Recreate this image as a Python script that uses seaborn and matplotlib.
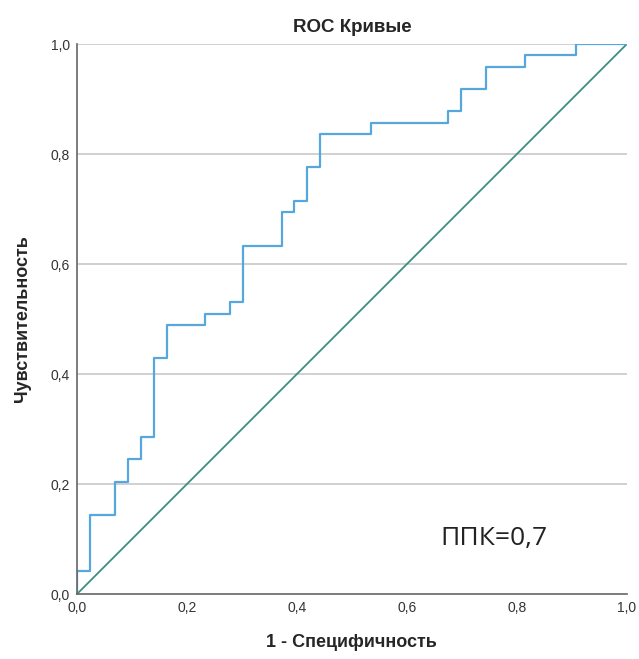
import numpy as np
import pandas as pd
import matplotlib
matplotlib.use("Agg")
import matplotlib.pyplot as plt
import seaborn as sns

# ROC step points (1 - specificity, sensitivity)
fpr = [0.0, 0.0, 0.023, 0.023, 0.070, 0.070, 0.093, 0.093, 0.116, 0.116,
       0.140, 0.140, 0.163, 0.163, 0.233, 0.233, 0.279, 0.279, 0.302, 0.302,
       0.372, 0.372, 0.395, 0.395, 0.419, 0.419, 0.442, 0.442, 0.535, 0.535,
       0.674, 0.674, 0.698, 0.698, 0.744, 0.744, 0.814, 0.814, 0.907, 0.907, 1.0]
tpr = [0.0, 0.041, 0.041, 0.143, 0.143, 0.204, 0.204, 0.245, 0.245, 0.286,
       0.286, 0.429, 0.429, 0.490, 0.490, 0.510, 0.510, 0.531, 0.531, 0.633,
       0.633, 0.694, 0.694, 0.714, 0.714, 0.776, 0.776, 0.837, 0.837, 0.857,
       0.857, 0.878, 0.878, 0.918, 0.918, 0.959, 0.959, 0.980, 0.980, 1.0, 1.0]
diag_x = [0.0, 1.0]
diag_y = [0.0, 1.0]
ticks = [0.0, 0.2, 0.4, 0.6, 0.8, 1.0]
tick_labels = ["0,0", "0,2", "0,4", "0,6", "0,8", "1,0"]

df = pd.DataFrame({"fpr": fpr, "tpr": tpr})
dfd = pd.DataFrame({"x": diag_x, "y": diag_y})

sns.set_theme(style="white")
plt.rcParams["font.family"] = ["Liberation Sans", "DejaVu Sans"]

fig = plt.figure(figsize=(6.39, 6.59), dpi=100)
ax = fig.add_axes([0.1205, 0.0986, 0.8605, 0.8346])

for y in ticks[1:]:
    ax.axhline(y, color="#c8c8c8", linewidth=1.2, zorder=0)

sns.lineplot(data=dfd, x="x", y="y", color="#3a8f85", linewidth=1.3, ax=ax,
             sort=False, estimator=None)
sns.lineplot(data=df, x="fpr", y="tpr", color="#56a7dc", linewidth=1.6, ax=ax,
             sort=False, estimator=None)

ax.set_xlim(0, 1)
ax.set_ylim(0, 1)
ax.set_xticks(ticks)
ax.set_xticklabels(tick_labels)
ax.set_yticks(ticks)
ax.set_yticklabels(tick_labels)
ax.tick_params(axis="both", length=0, labelsize=10, colors="#333333", pad=5)

for s in ["top", "right"]:
    ax.spines[s].set_visible(False)
for s in ["left", "bottom"]:
    ax.spines[s].set_color("#666666")
    ax.spines[s].set_linewidth(1.2)

ax.set_title("ROC Кривые", fontsize=13.5, fontweight="bold", pad=9)
ax.set_xlabel("1 - Специфичность", fontsize=13, fontweight="bold", labelpad=14)
ax.set_ylabel("Чувствительность", fontsize=13, fontweight="bold", labelpad=14)

ax.text(0.660, 0.090, "ППК=0,7", fontsize=19, color="#222222",
        family=["Open Sans", "DejaVu Sans"])

fig.savefig("out.png", dpi=100)
